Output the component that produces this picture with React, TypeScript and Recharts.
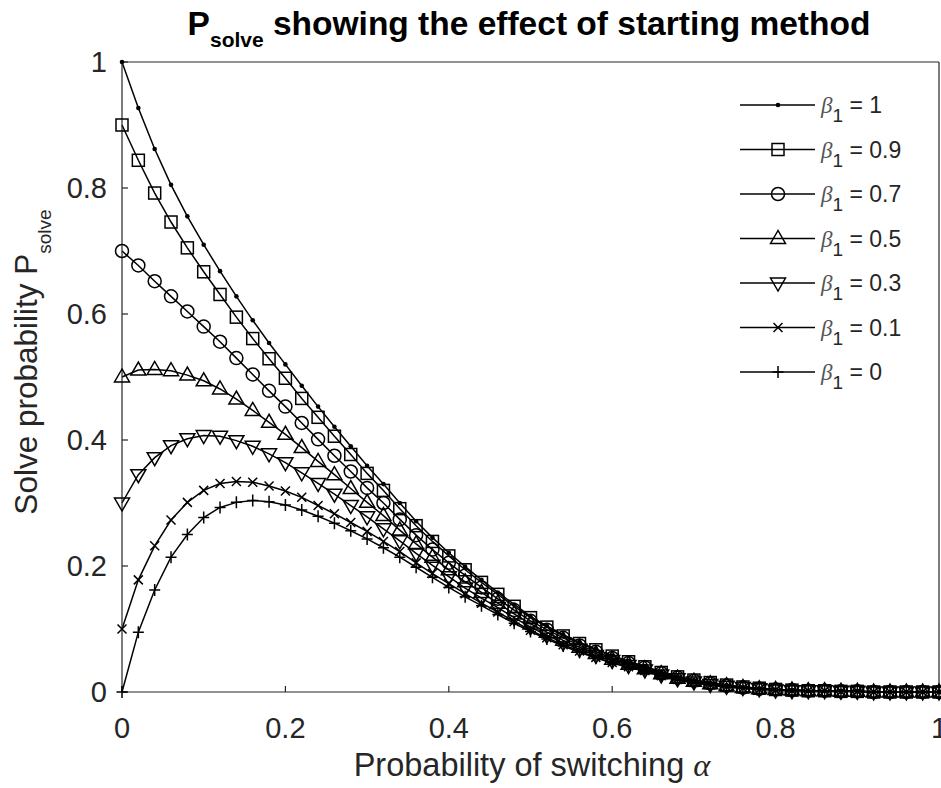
import { LineChart, Line, XAxis, YAxis, Legend } from 'recharts';

const FONT = '"Liberation Sans", Arial, Helvetica, sans-serif';
const AXIS_GRAY = '#262626';

// switching probability alpha
const alpha = [
  0, 0.02, 0.04, 0.06, 0.08, 0.1, 0.12, 0.14, 0.16, 0.18, 0.2, 0.22, 0.24, 0.26, 0.28, 0.3, 0.32,
  0.34, 0.36, 0.38, 0.4, 0.42, 0.44, 0.46, 0.48, 0.5, 0.52, 0.54, 0.56, 0.58, 0.6, 0.62, 0.64,
  0.66, 0.68, 0.7, 0.72, 0.74, 0.76, 0.78, 0.8, 0.82, 0.84, 0.86, 0.88, 0.9, 0.92, 0.94, 0.96,
  0.98, 1,
];

const beta1 = [
  1.0, 0.927, 0.862, 0.805, 0.755, 0.71, 0.668, 0.628, 0.59, 0.554, 0.52, 0.486, 0.453, 0.421,
  0.39, 0.359, 0.33, 0.3, 0.271, 0.245, 0.221, 0.199, 0.178, 0.158, 0.139, 0.12, 0.105, 0.091,
  0.079, 0.068, 0.058, 0.049, 0.041, 0.032, 0.025, 0.019, 0.015, 0.011, 0.008, 0.006, 0.004,
  0.003, 0.002, 0.002, 0.001, 0.001, 0, 0, 0, 0, 0,
];
const beta09 = [
  0.9, 0.844, 0.792, 0.746, 0.705, 0.667, 0.631, 0.595, 0.561, 0.529, 0.498, 0.466, 0.436, 0.406,
  0.377, 0.347, 0.32, 0.291, 0.264, 0.239, 0.216, 0.194, 0.174, 0.155, 0.136, 0.118, 0.103, 0.089,
  0.077, 0.067, 0.057, 0.048, 0.04, 0.031, 0.024, 0.019, 0.015, 0.011, 0.008, 0.006, 0.004,
  0.003, 0.002, 0.002, 0.001, 0.001, 0, 0, 0, 0, 0,
];
const beta07 = [
  0.7, 0.677, 0.652, 0.628, 0.604, 0.58, 0.556, 0.53, 0.504, 0.478, 0.453, 0.427, 0.401, 0.375,
  0.35, 0.324, 0.3, 0.274, 0.249, 0.226, 0.205, 0.185, 0.166, 0.148, 0.13, 0.113, 0.099, 0.086,
  0.074, 0.064, 0.054, 0.046, 0.039, 0.03, 0.023, 0.018, 0.014, 0.01, 0.007, 0.005, 0.004,
  0.003, 0.002, 0.002, 0.001, 0.001, 0, 0, 0, 0, 0,
];
const beta05 = [
  0.5, 0.511, 0.512, 0.51, 0.503, 0.494, 0.481, 0.465, 0.447, 0.428, 0.409, 0.388, 0.366, 0.345,
  0.323, 0.301, 0.28, 0.257, 0.235, 0.214, 0.194, 0.175, 0.158, 0.141, 0.124, 0.108, 0.095, 0.082,
  0.071, 0.061, 0.052, 0.044, 0.037, 0.029, 0.022, 0.017, 0.013, 0.01, 0.007, 0.005, 0.004,
  0.003, 0.002, 0.002, 0.001, 0.001, 0, 0, 0, 0, 0,
];
const beta03 = [
  0.3, 0.345, 0.372, 0.391, 0.402, 0.407, 0.406, 0.399, 0.39, 0.378, 0.364, 0.348, 0.331, 0.314,
  0.296, 0.278, 0.259, 0.24, 0.22, 0.201, 0.183, 0.165, 0.149, 0.134, 0.118, 0.103, 0.09, 0.078,
  0.068, 0.058, 0.05, 0.042, 0.035, 0.027, 0.021, 0.016, 0.012, 0.009, 0.007, 0.005, 0.003,
  0.002, 0.002, 0.002, 0.001, 0.001, 0, 0, 0, 0, 0,
];
const beta01 = [
  0.1, 0.178, 0.232, 0.273, 0.301, 0.32, 0.331, 0.334, 0.333, 0.327, 0.319, 0.309, 0.296, 0.283,
  0.269, 0.255, 0.239, 0.223, 0.205, 0.188, 0.172, 0.156, 0.141, 0.127, 0.112, 0.098, 0.086, 0.075,
  0.065, 0.055, 0.047, 0.04, 0.034, 0.026, 0.02, 0.015, 0.011, 0.008, 0.006, 0.004, 0.003,
  0.002, 0.002, 0.002, 0.001, 0.001, 0, 0, 0, 0, 0,
];
const beta0 = [
  0, 0.095, 0.162, 0.214, 0.25, 0.277, 0.293, 0.301, 0.304, 0.302, 0.297, 0.289, 0.279, 0.268,
  0.256, 0.243, 0.229, 0.214, 0.198, 0.182, 0.166, 0.151, 0.137, 0.123, 0.109, 0.096, 0.084, 0.073,
  0.063, 0.054, 0.046, 0.039, 0.033, 0.025, 0.019, 0.014, 0.011, 0.008, 0.006, 0.004, 0.003,
  0.002, 0.002, 0.002, 0.001, 0.001, 0, 0, 0, 0, 0,
];

const axisTicks = [0, 0.2, 0.4, 0.6, 0.8, 1];

const series = [
  { key: 'b1', label: '1', values: beta1, marker: 'dot' },
  { key: 'b09', label: '0.9', values: beta09, marker: 'square' },
  { key: 'b07', label: '0.7', values: beta07, marker: 'circle' },
  { key: 'b05', label: '0.5', values: beta05, marker: 'triUp' },
  { key: 'b03', label: '0.3', values: beta03, marker: 'triDown' },
  { key: 'b01', label: '0.1', values: beta01, marker: 'cross' },
  { key: 'b0', label: '0', values: beta0, marker: 'plus' },
];

const data = alpha.map((a, i) => {
  const row: any = { alpha: a };
  series.forEach((s) => (row[s.key] = s.values[i]));
  return row;
});

function Marker({ kind, cx, cy }: { kind: string; cx: number; cy: number }) {
  const st = { stroke: '#000', strokeWidth: 1.5, fill: 'none' };
  switch (kind) {
    case 'dot':
      return <circle cx={cx} cy={cy} r={2.3} fill="#000" />;
    case 'square':
      return <rect x={cx - 6} y={cy - 6} width={12} height={12} {...st} />;
    case 'circle':
      return <circle cx={cx} cy={cy} r={6.5} {...st} />;
    case 'triUp':
      return <polygon points={`${cx},${cy - 8} ${cx - 7.5},${cy + 5} ${cx + 7.5},${cy + 5}`} {...st} />;
    case 'triDown':
      return <polygon points={`${cx},${cy + 8} ${cx - 7.5},${cy - 5} ${cx + 7.5},${cy - 5}`} {...st} />;
    case 'cross':
      return (
        <path d={`M${cx - 4.5},${cy - 4.5}L${cx + 4.5},${cy + 4.5}M${cx - 4.5},${cy + 4.5}L${cx + 4.5},${cy - 4.5}`} {...st} />
      );
    default:
      return <path d={`M${cx - 5.5},${cy}L${cx + 5.5},${cy}M${cx},${cy - 6}L${cx},${cy + 6}`} {...st} />;
  }
}

const renderLegend = () => (
  <svg width={200} height={320} style={{ display: 'block' }}>
    {series.map((s, i) => {
      const y = 22 + i * 44.5;
      return (
        <g key={s.key}>
          <line x1={5} x2={80} y1={y} y2={y} stroke="#000" strokeWidth={1.5} />
          <Marker kind={s.marker} cx={43} cy={y} />
          <text x={86} y={y + 8} fontSize={23} fill={AXIS_GRAY} fontFamily={FONT}>
            <tspan fontFamily='"Liberation Serif", serif' fontStyle="italic" fill="#555">β</tspan>
            <tspan fontSize={19} dy={9}>1</tspan>
            <tspan dy={-9}> = {s.label}</tspan>
          </text>
        </g>
      );
    })}
  </svg>
);

const axisCommon = {
  type: 'number' as const,
  domain: [0, 1],
  ticks: axisTicks,
  interval: 0 as const,
  tickSize: -6,
  axisLine: { stroke: AXIS_GRAY, strokeWidth: 1.2 },
  tickLine: { stroke: AXIS_GRAY, strokeWidth: 1.2 },
};

export default function App() {
  return (
    <div style={{ position: 'absolute', left: 0, top: 0, width: 941, height: 788, background: '#fff' }}>
      <LineChart
        width={941}
        height={788}
        data={data}
        margin={{ top: 61, right: 1, bottom: 95, left: 121 }}
      >
        <XAxis
          {...axisCommon}
          xAxisId="bottom"
          dataKey="alpha"
          height={1}
          tickMargin={31}
          tick={{ fill: AXIS_GRAY, fontSize: 29, fontFamily: FONT }}
        />
        <XAxis
          {...axisCommon}
          xAxisId="top"
          orientation="top"
          dataKey="alpha"
          height={1}
          tick={false}
        />
        <YAxis
          {...axisCommon}
          yAxisId="left"
          width={1}
          tickMargin={21}
          tick={{ fill: AXIS_GRAY, fontSize: 29, fontFamily: FONT }}
        />
        <YAxis
          {...axisCommon}
          yAxisId="right"
          orientation="right"
          width={1}
          tick={false}
        />
        <Legend
          layout="vertical"
          align="center"
          verticalAlign="middle"
          content={renderLegend}
          wrapperStyle={{ left: 735, top: 83, width: 200, height: 320 }}
        />
        {series.map((s) => (
          <Line
            key={s.key}
            xAxisId="bottom"
            yAxisId="left"
            type="linear"
            dataKey={s.key}
            stroke="#000"
            strokeWidth={1.5}
            isAnimationActive={false}
            activeDot={false}
            dot={(p: any) => <Marker key={`${s.key}-${p.index}`} kind={s.marker} cx={p.cx} cy={p.cy} />}
          />
        ))}
      </LineChart>
      <svg
        width={941}
        height={788}
        style={{ position: 'absolute', left: 0, top: 0, pointerEvents: 'none' }}
      >
        <text x={529} y={35} textAnchor="middle" fontFamily={FONT} fontWeight="bold" fontSize={33.5} fill="#000">
          P<tspan fontSize={21} dy={12}>solve</tspan>
          <tspan dy={-12}> showing the effect of starting method</tspan>
        </text>
        <text x={532} y={776} textAnchor="middle" fontFamily={FONT} fontSize={32.5} fill={AXIS_GRAY}>
          Probability of switching{' '}
          <tspan fontFamily='"Liberation Serif", serif' fontStyle="italic">α</tspan>
        </text>
        <text
          transform="translate(37,362) rotate(-90)"
          textAnchor="middle"
          fontFamily={FONT}
          fontSize={31.5}
          fill={AXIS_GRAY}
        >
          Solve probability P<tspan fontSize={19} dy={14}>solve</tspan>
        </text>
      </svg>
    </div>
  );
}
